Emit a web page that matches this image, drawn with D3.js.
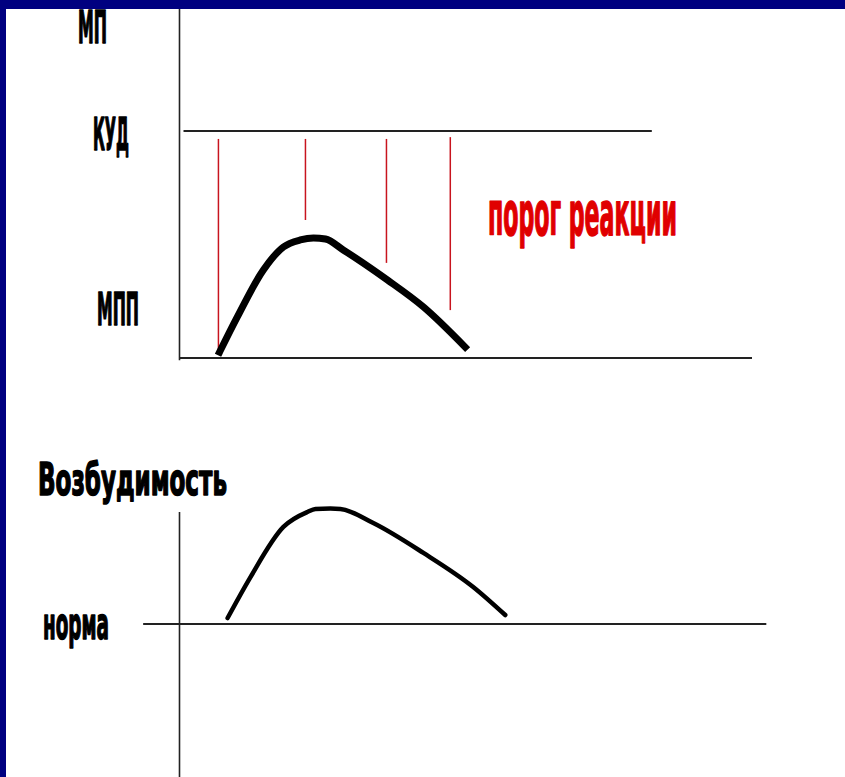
<!DOCTYPE html>
<html>
<head>
<meta charset="utf-8">
<script src="https://cdn.jsdelivr.net/npm/d3@7"></script>
<style>
  body { margin: 0; background: #fff; }
  text { font-family: "Liberation Sans Narrow", "DejaVu Sans Condensed", sans-serif; font-weight: bold; }
</style>
</head>
<body>
<div id="root"></div>
<script>
// upper panel: membrane potential, time in arbitrary units
const mpTime = [1.40, 2.02, 2.93, 3.63, 4.22, 4.68, 5.10, 5.72, 7.26, 8.52, 9.98];
const mpValue = [2.6, 18.1, 38.8, 48.9, 52.0, 52.9, 52.4, 47.6, 34.4, 22.5, 4.8];
const kud = 100;
// red "threshold" marks
const thrTime = [1.36, 4.40, 7.23, 9.46];
const thrTop = [96.5, 96.5, 96.5, 97.3];
const thrBottom = [3.5, 60.8, 41.9, 21.1];

// lower panel: excitability
const exTime = [1.68, 2.48, 3.63, 4.47, 4.75, 5.27, 5.62, 6.77, 8.52, 10.26, 11.38];
const exValue = [2.6, 20.4, 42.2, 48.7, 50.0, 50.2, 50.0, 43.9, 30.9, 16.1, 3.9];

const w = 845, h = 777;

const svg = d3.select('#root')
  .append('svg')
  .attr('width', w)
  .attr('height', h);

svg.append('rect').attr('width', w).attr('height', h).attr('fill', '#fff');

const x = d3.scaleLinear().domain([0, 20]).range([179.5, 752]);
const yTop = d3.scaleLinear().domain([0, 100]).range([358, 131]);
const yBot = d3.scaleLinear().domain([0, 50]).range([624, 509]);

// upper axes
svg.append('line')
  .attr('x1', x(0)).attr('x2', x(0))
  .attr('y1', 0).attr('y2', yTop(-1))
  .attr('stroke', '#222').attr('stroke-width', 1.6);
svg.append('line')
  .attr('x1', x(0)).attr('x2', x(20))
  .attr('y1', yTop(0)).attr('y2', yTop(0))
  .attr('stroke', '#222').attr('stroke-width', 2);
svg.append('line')
  .attr('x1', x(0.14)).attr('x2', x(16.5))
  .attr('y1', yTop(kud)).attr('y2', yTop(kud))
  .attr('stroke', '#222').attr('stroke-width', 2);

svg.selectAll('line.thr')
  .data(thrTime)
  .enter()
  .append('line')
  .attr('class', 'thr')
  .attr('x1', d => x(d)).attr('x2', d => x(d))
  .attr('y1', (d, i) => yTop(thrTop[i]))
  .attr('y2', (d, i) => yTop(thrBottom[i]))
  .attr('stroke', '#c8141e').attr('stroke-width', 1.5);

const lineTop = d3.line()
  .x((d, i) => x(mpTime[i]))
  .y(d => yTop(d))
  .curve(d3.curveMonotoneX);

svg.append('path')
  .attr('d', lineTop(mpValue))
  .attr('fill', 'none')
  .attr('stroke', '#000')
  .attr('stroke-width', 7)
  .attr('stroke-linecap', 'square');

// lower axes
svg.append('line')
  .attr('x1', x(0)).attr('x2', x(0))
  .attr('y1', yBot(48.7)).attr('y2', h)
  .attr('stroke', '#222').attr('stroke-width', 1.6);
svg.append('line')
  .attr('x1', x(-1.27)).attr('x2', x(20.5))
  .attr('y1', yBot(0)).attr('y2', yBot(0))
  .attr('stroke', '#222').attr('stroke-width', 2);

const lineBot = d3.line()
  .x((d, i) => x(exTime[i]))
  .y(d => yBot(d))
  .curve(d3.curveMonotoneX);

svg.append('path')
  .attr('d', lineBot(exValue))
  .attr('fill', 'none')
  .attr('stroke', '#000')
  .attr('stroke-width', 4.5)
  .attr('stroke-linecap', 'round');

// labels: squeeze each one into the width seen on the slide
function label(txt, x0, base, len, size, color) {
  let t = svg.append('text')
    .text(txt)
    .attr('x', 0)
    .attr('y', 0)
    .attr('font-size', size)
    .attr('fill', color)
    .attr('stroke', color)
    .attr('stroke-width', 1.6)
    .attr('stroke-linejoin', 'round');
  let natural = t.node().getComputedTextLength();
  t.attr('transform', `translate(${x0},${base}) scale(${len / natural},1)`);
}
label('МП', 78, 43, 29, 45, '#000');
label('КУД', 93, 150, 36, 45, '#000');
label('МПП', 97, 325, 42, 45, '#000');
label('порог реакции', 488, 235, 189, 60, '#e00000');
label('Возбудимость', 38, 495, 189, 45, '#000');
label('норма', 43, 639, 66, 45, '#000');

// slide frame
svg.append('rect').attr('x', 0).attr('y', 0).attr('width', w).attr('height', 9).attr('fill', '#000080');
svg.append('rect').attr('x', 0).attr('y', 0).attr('width', 6).attr('height', h).attr('fill', '#000080');
</script>
</body>
</html>
